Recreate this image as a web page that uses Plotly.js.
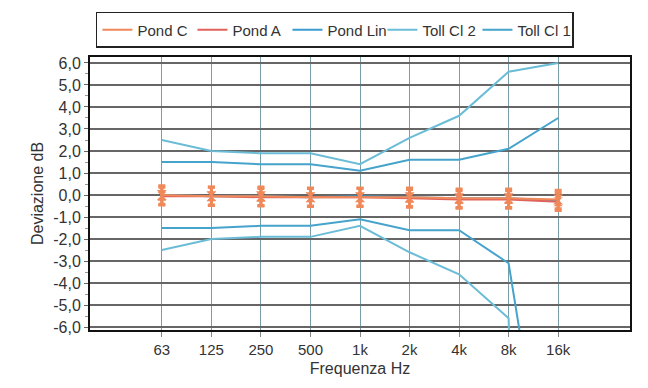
<!DOCTYPE html>
<html>
<head>
<meta charset="utf-8">
<script src="https://cdn.plot.ly/plotly-3.0.1.min.js"></script>
<style>html,body{margin:0;padding:0;background:#fff;}#chart{width:648px;height:388px;}</style>
</head>
<body>
<div id="chart"></div>
<script>
// Frequency bands (Hz)
var freqLabels = ['63', '125', '250', '500', '1k', '2k', '4k', '8k', '16k'];

// Measured deviations (dB)
var pondC   = [0.0, -0.05, -0.05, -0.1, -0.1, -0.1, -0.15, -0.15, -0.2];
var pondA   = [-0.05, -0.05, -0.1, -0.1, -0.1, -0.15, -0.2, -0.2, -0.3];
var pondLin = [0.0, -0.05, -0.05, -0.1, -0.05, -0.1, -0.15, -0.15, -0.25];

// Tolerance limits (dB)
var tollCl1Upper = [1.5, 1.5, 1.4, 1.4, 1.1, 1.6, 1.6, 2.1, 3.5];
var tollCl1Lower = [-1.5, -1.5, -1.4, -1.4, -1.1, -1.6, -1.6, -3.1, -17];
var tollCl2Upper = [2.5, 2.0, 1.9, 1.9, 1.4, 2.6, 3.6, 5.6, 6.0];
var tollCl2Lower = [-2.5, -2.0, -1.9, -1.9, -1.4, -2.6, -3.6, -5.6, -99];

// Y tick labels
var yTickVals = [-6, -5, -4, -3, -2, -1, 0, 1, 2, 3, 4, 5, 6];
var yTickText = ['-6,0', '-5,0', '-4,0', '-3,0', '-2,0', '-1,0', '0,0', '1,0', '2,0', '3,0', '4,0', '5,0', '6,0'];

var cCl1 = '#45a3cc';
var cCl2 = '#6bbcd6';
var cPondC = '#f0895a';
var cPondA = '#e0625a';
var cPondLin = '#3b9bd0';

function line(name, y, color, opts) {
  var t = {
    type: 'scatter', mode: 'lines', name: name, x: freqLabels, y: y,
    line: {color: color, width: 2}, hoverinfo: 'skip'
  };
  for (var k in opts) t[k] = opts[k];
  return t;
}

function marks(y, size, err) {
  return {
    type: 'scatter', mode: 'markers', x: freqLabels, y: y, showlegend: false,
    marker: {symbol: 'hourglass', size: size, color: cPondC},
    error_y: {type: 'constant', value: err, color: cPondC, thickness: 3, width: 3.5},
    hoverinfo: 'skip'
  };
}

var traces = [
  line('Toll Cl 2', tollCl2Upper, cCl2, {legendgroup: 'cl2', legendrank: 4}),
  line('Toll Cl 2', tollCl2Lower, cCl2, {legendgroup: 'cl2', showlegend: false}),
  line('Toll Cl 1', tollCl1Upper, cCl1, {legendgroup: 'cl1', legendrank: 5}),
  line('Toll Cl 1', tollCl1Lower, cCl1, {legendgroup: 'cl1', showlegend: false}),
  line('Pond Lin', pondLin, cPondLin, {legendrank: 3}),
  line('Pond A', pondA, cPondA, {legendrank: 2}),
  marks(pondA, 9, 0.4),
  line('Pond C', pondC, cPondC, {legendrank: 1}),
  marks(pondC, 10, 0.42)
];

var layout = {
  width: 648, height: 388,
  margin: {l: 90, r: 18, t: 55, b: 58},
  paper_bgcolor: '#ffffff', plot_bgcolor: '#ffffff',
  font: {family: 'Liberation Sans, Arial, sans-serif', color: '#333333', size: 15},
  showlegend: true,
  legend: {
    orientation: 'h', x: 0.011, y: 1.165, xanchor: 'left', yanchor: 'top',
    bordercolor: '#222222', borderwidth: 1.5, bgcolor: '#ffffff',
    font: {size: 15, color: '#333333'},
    entrywidth: 50, entrywidthmode: 'pixels', traceorder: 'normal',
    tracegroupgap: 0
  },
  xaxis: {
    type: 'category', range: [-1.45, 9.45],
    showgrid: true, gridcolor: '#7a9ea8', gridwidth: 1,
    ticks: 'outside', ticklen: 5, tickcolor: '#888888',
    tickfont: {size: 15, color: '#333333'},
    showline: true, linecolor: '#111111', linewidth: 2, mirror: true,
    zeroline: false,
    title: {text: 'Frequenza Hz', font: {size: 16, color: '#333333'}, standoff: 6}
  },
  yaxis: {
    range: [-6.13, 6.27],
    tickvals: yTickVals, ticktext: yTickText,
    showgrid: true, gridcolor: '#666666', gridwidth: 1.5,
    ticks: 'outside', ticklen: 4, tickcolor: '#666666',
    minor: {dtick: 0.5, ticks: 'outside', ticklen: 3, tickcolor: '#999999', showgrid: false},
    tickfont: {size: 16, color: '#333333'},
    showline: true, linecolor: '#111111', linewidth: 2, mirror: true,
    zeroline: false,
    title: {text: 'Deviazione dB', font: {size: 16, color: '#333333'}, standoff: 6}
  }
};

Plotly.newPlot('chart', traces, layout, {displayModeBar: false, staticPlot: true});
</script>
</body>
</html>
